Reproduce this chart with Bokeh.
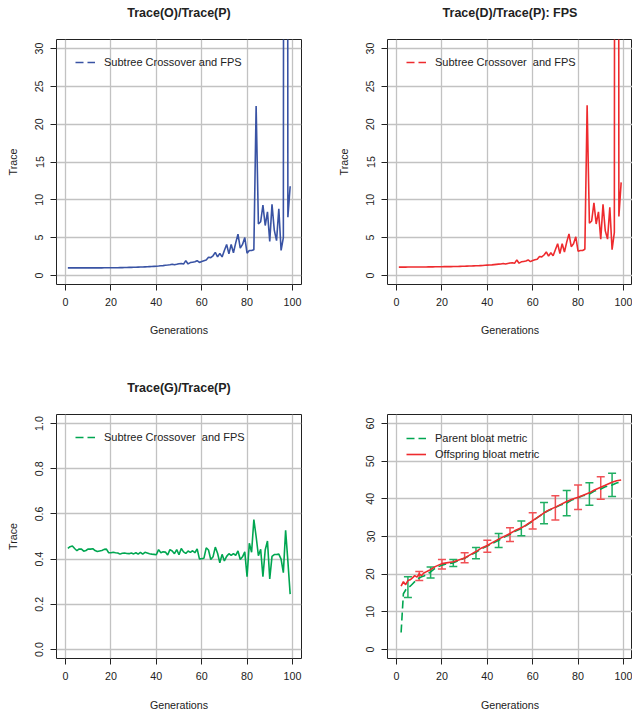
from bokeh.plotting import figure
from bokeh.models import (Range1d, FixedTicker, Legend, LegendItem, Whisker, TeeHead,
                          ColumnDataSource, PrintfTickFormatter, LinearAxis)
from bokeh.layouts import column, row
from bokeh.embed import file_html
from bokeh.resources import INLINE

# ---------------- data ----------------
gens = list(range(1, 100))

trace_o = [1.00, 1.00, 1.00, 1.00, 1.00, 1.00, 1.00, 1.00, 1.00, 1.00,
           1.00, 1.00, 1.00, 1.00, 1.00, 1.00, 1.01, 1.01, 1.01, 1.01,
           1.01, 1.02, 1.02, 1.03, 1.03, 1.04, 1.05, 1.06, 1.07, 1.08,
           1.09, 1.10, 1.11, 1.12, 1.13, 1.14, 1.16, 1.18, 1.20, 1.22,
           1.24, 1.27, 1.30, 1.34, 1.37, 1.42, 1.48, 1.40, 1.47, 1.55,
           1.58, 1.50, 1.95, 1.52, 1.70, 1.75, 1.80, 1.95, 1.72, 1.85,
           1.95, 2.05, 2.40, 2.35, 2.60, 3.05, 2.45, 2.90, 2.45, 3.30,
           4.10, 2.85, 4.10, 3.00, 4.30, 5.45, 3.60, 4.10, 5.00, 2.95,
           3.30, 3.30, 3.40, 22.40, 6.80, 7.10, 9.30, 6.60, 8.40, 4.50,
           9.40, 6.00, 4.60, 8.80, 3.30, 5.00, 400.0, 7.70, 11.80]

trace_d = [1.10, 1.10, 1.10, 1.10, 1.11, 1.11, 1.11, 1.11, 1.11, 1.12,
           1.12, 1.12, 1.12, 1.13, 1.13, 1.13, 1.14, 1.14, 1.15, 1.15,
           1.16, 1.16, 1.17, 1.17, 1.18, 1.19, 1.19, 1.20, 1.21, 1.22,
           1.23, 1.24, 1.25, 1.26, 1.27, 1.28, 1.30, 1.32, 1.34, 1.36,
           1.38, 1.40, 1.43, 1.46, 1.49, 1.52, 1.57, 1.50, 1.58, 1.65,
           1.68, 1.60, 2.05, 1.62, 1.80, 1.85, 1.90, 2.05, 1.82, 1.98,
           2.08, 2.15, 2.50, 2.45, 2.70, 3.10, 2.55, 3.00, 2.60, 3.40,
           4.20, 2.90, 4.20, 3.10, 4.40, 5.50, 3.80, 4.20, 5.10, 3.20,
           3.30, 3.30, 3.45, 22.50, 6.90, 7.20, 9.60, 6.80, 8.40, 4.80,
           9.40, 5.90, 4.80, 9.00, 3.40, 5.70, 400.0, 7.80, 12.30]

trace_g = [0.447, 0.455, 0.458, 0.447, 0.437, 0.445, 0.444, 0.435, 0.438, 0.445,
           0.444, 0.446, 0.438, 0.434, 0.436, 0.438, 0.443, 0.444, 0.428, 0.428,
           0.430, 0.428, 0.427, 0.422, 0.426, 0.427, 0.425, 0.424, 0.427, 0.423,
           0.428, 0.422, 0.430, 0.422, 0.430, 0.427, 0.424, 0.422, 0.421, 0.419,
           0.442, 0.428, 0.432, 0.431, 0.418, 0.442, 0.436, 0.424, 0.442, 0.419,
           0.447, 0.432, 0.425, 0.436, 0.430, 0.437, 0.428, 0.445, 0.401, 0.402,
           0.404, 0.450, 0.440, 0.398, 0.410, 0.453, 0.426, 0.384, 0.421, 0.392,
           0.412, 0.424, 0.416, 0.424, 0.416, 0.436, 0.398, 0.410, 0.432, 0.322,
           0.470, 0.430, 0.575, 0.500, 0.415, 0.443, 0.322, 0.440, 0.480, 0.312,
           0.412, 0.420, 0.420, 0.422, 0.400, 0.340, 0.527, 0.390, 0.245]

bloat_gens = [2, 3, 4, 5, 6, 7, 8, 9, 10, 11, 12, 13, 14, 15, 17, 20, 22, 25, 27, 30,
              32, 35, 37, 40, 42, 45, 47, 50, 52, 55, 57, 60, 62, 65, 67, 70, 72, 75,
              77, 80, 82, 85, 87, 90, 92, 95, 97, 99]
offspring_bloat = [16.8, 18.0, 17.2, 18.3, 18.5, 19.0, 19.6, 19.2, 20.1, 19.6, 20.3, 20.6,
                   20.9, 21.2, 22.0, 22.8, 23.0, 23.3, 23.7, 24.3, 25.0, 26.0, 26.8, 27.6,
                   28.3, 29.3, 29.9, 30.8, 31.5, 32.3, 33.0, 34.2, 35.0, 36.3, 37.0, 37.8,
                   38.4, 39.3, 39.8, 40.4, 40.9, 41.6, 42.3, 43.1, 43.6, 44.4, 44.8, 45.0]
parent_bloat = [4.5, 14.8, 15.8, 16.3, 16.8, 17.4, 18.0, 18.6, 19.0, 19.3, 19.5, 19.8,
                20.2, 20.6, 21.6, 22.4, 22.7, 23.0, 23.5, 24.2, 24.9, 25.8, 26.6, 27.5,
                28.1, 29.0, 29.7, 30.6, 31.3, 32.1, 32.9, 34.1, 35.0, 36.2, 36.9, 37.7,
                38.3, 38.9, 39.6, 40.3, 40.8, 41.3, 42.0, 42.6, 43.2, 43.7, 44.2, 44.5]

parent_bar_x = [5, 15, 25, 35, 45, 55, 65, 75, 85, 95]
parent_lo = [13.8, 19.0, 22.0, 24.1, 27.1, 30.2, 33.4, 35.5, 38.3, 40.6]
parent_hi = [19.3, 21.9, 23.9, 27.1, 30.8, 34.1, 39.0, 42.2, 44.3, 46.8]
offspring_bar_x = [10, 20, 30, 40, 50, 60, 70, 80, 90]
offspring_lo = [18.3, 21.4, 23.0, 25.8, 28.7, 32.0, 34.4, 37.2, 39.9]
offspring_hi = [20.7, 23.9, 25.7, 29.0, 32.3, 36.3, 40.8, 43.7, 45.9]

x_ticks = [0, 20, 40, 60, 80, 100]
trace_ticks = [0, 5, 10, 15, 20, 25, 30]
ratio_ticks = [0.0, 0.2, 0.4, 0.6, 0.8, 1.0]
bloat_ticks = [0, 10, 20, 30, 40, 50, 60]

# ---------------- style ----------------
FONT = "Liberation Sans"
TXT = "#222222"
BLUE = "#3953a4"
RED = "#ee2b2e"
GREEN = "#00a651"
GRID = "#c2c2c2"
FS = "10.7px"
LW = 1.6


def make_fig(fw, fh, left, right, top, bottom, yr, yticks, title="", ylabel=None,
             title_standoff=20, xlabel_standoff=15):
    p = figure(frame_width=fw, frame_height=fh,
               min_border_left=left, min_border_right=right,
               min_border_top=top, min_border_bottom=bottom,
               x_range=Range1d(-4, 104), y_range=Range1d(*yr),
               output_backend="svg", toolbar_location=None, tools="")
    p.background_fill_color = "white"
    p.border_fill_color = "white"
    p.outline_line_color = TXT
    p.outline_line_width = 1
    p.title.text = ""
    xa = p.below[0]
    ya = p.left[0]
    for ax in (xa, ya):
        ax.axis_line_color = None
        ax.major_tick_in = 0
        ax.major_tick_out = 6
        ax.major_tick_line_color = TXT
        ax.minor_tick_line_color = None
        ax.major_label_text_font = FONT
        ax.major_label_text_font_size = FS
        ax.major_label_text_color = TXT
        ax.major_label_standoff = 7
        ax.axis_label_text_font = FONT
        ax.axis_label_text_font_size = FS
        ax.axis_label_text_font_style = "normal"
        ax.axis_label_text_color = TXT
    xa.ticker = FixedTicker(ticks=x_ticks)
    ya.ticker = FixedTicker(ticks=yticks)
    xa.axis_label = "Generations"
    xa.axis_label_standoff = xlabel_standoff
    ya.major_label_orientation = "vertical"
    if ylabel:
        ya.axis_label = ylabel
        ya.axis_label_standoff = 14
    p.xgrid.grid_line_color = GRID
    p.ygrid.grid_line_color = GRID
    p.xgrid.grid_line_width = 1.3
    p.ygrid.grid_line_width = 1.3
    if title:
        # main title drawn as the label of a tick-less axis above the frame
        tax = LinearAxis(ticker=FixedTicker(ticks=[]), axis_label=title,
                         axis_line_color=None, major_tick_line_color=None,
                         minor_tick_line_color=None, major_tick_out=0, major_tick_in=0,
                         major_label_standoff=0, axis_label_standoff=title_standoff,
                         axis_label_text_font=FONT, axis_label_text_font_size="12.5px",
                         axis_label_text_font_style="bold", axis_label_text_color=TXT)
        p.add_layout(tax, "above")
    return p, ya


def add_legend(p, entries, loc, item_h=20):
    items = []
    for label, color, dash in entries:
        # sample line kept outside the visible ranges; used only for the legend key
        r = p.line(x=[-50, -49], y=[-500, -500], line_color=color, line_width=LW,
                   line_dash=dash)
        items.append(LegendItem(label=label, renderers=[r]))
    leg = Legend(items=items, location=loc, margin=0, padding=0, spacing=0,
                 glyph_width=20, glyph_height=item_h, label_height=item_h,
                 label_standoff=9, label_text_font=FONT, label_text_font_size="11px",
                 label_text_color=TXT, background_fill_alpha=0, border_line_alpha=0)
    p.add_layout(leg)


# top-left
p1, _ = make_fig(245, 245, 56, 15, 39, 72, (-1.2, 31.2), trace_ticks,
                 title="Trace(O)/Trace(P)", ylabel="Trace")
p1.line(gens, trace_o, line_color=BLUE, line_width=LW)
add_legend(p1, [("Subtree Crossover and FPS", BLUE, "8 4")], (19, 212))

# top-right
p2, _ = make_fig(245, 245, 71, 0, 39, 72, (-1.2, 31.2), trace_ticks,
                 title="Trace(D)/Trace(P): FPS", ylabel="Trace")
p2.line(gens, trace_d, line_color=RED, line_width=LW)
add_legend(p2, [("Subtree Crossover  and FPS", RED, "8 4")], (19, 212))

# bottom-left
p3, y3 = make_fig(245, 244, 56, 15, 57, 55, (-0.04, 1.04), ratio_ticks,
                  title="Trace(G)/Trace(P)", ylabel="Trace", xlabel_standoff=16)
y3.formatter = PrintfTickFormatter(format="%.1f")
p3.line(gens, trace_g, line_color=GREEN, line_width=LW)
add_legend(p3, [("Subtree Crossover  and FPS", GREEN, "8 4")], (19, 211))

# bottom-right
p4, _ = make_fig(245, 244, 71, 0, 58, 54, (-2.4, 62.4), bloat_ticks, xlabel_standoff=16)
p4.line(bloat_gens, parent_bloat, line_color=GREEN, line_width=LW, line_dash="8 4")
p4.line(bloat_gens, offspring_bloat, line_color=RED, line_width=LW)
for bx, lo, hi, col in ((parent_bar_x, parent_lo, parent_hi, "#1fae62"),
                        (offspring_bar_x, offspring_lo, offspring_hi, "#f05055")):
    src = ColumnDataSource(dict(base=bx, lower=lo, upper=hi))
    w = Whisker(source=src, base="base", lower="lower", upper="upper",
                dimension="height", line_color=col, line_width=1.5,
                upper_head=TeeHead(size=8, line_color=col, line_width=1.5),
                lower_head=TeeHead(size=8, line_color=col, line_width=1.5))
    p4.add_layout(w)
add_legend(p4, [("Parent bloat metric", GREEN, "8 4"),
                ("Offspring bloat metric", RED, "solid")], (19, 196), item_h=16)

layout = column(row(p1, p2), row(p3, p4))
open("out.html", "w").write(file_html(layout, INLINE))
